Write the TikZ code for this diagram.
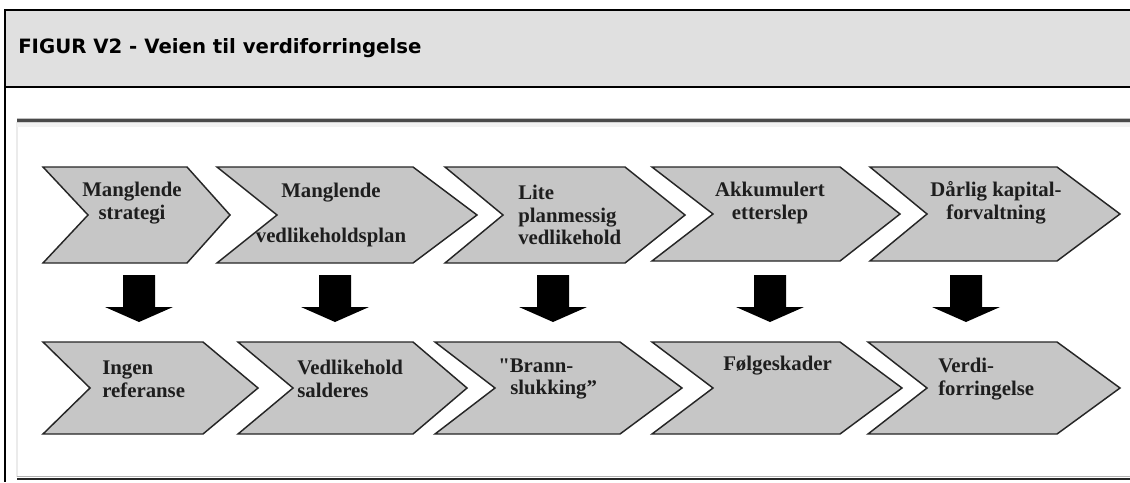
\documentclass[tikz,border=0pt]{standalone}
\usepackage{fontspec}
\newfontfamily\titlefont{DejaVu Sans}
\newfontfamily\chevfont{Liberation Serif}
\definecolor{headgray}{HTML}{E0E0E0}
\definecolor{chevgray}{HTML}{C6C6C6}
\definecolor{chevline}{HTML}{262626}
\definecolor{chevink}{HTML}{1E1E1E}
\definecolor{rulegray}{HTML}{4A4A4A}

\tikzset{
  frameline/.style={line width=2.2pt, black},
  chev/.style={fill=chevgray, draw=chevline, line width=1.1pt, line join=miter},
  chevtext/.style={font=\chevfont\bfseries\fontsize{15.6}{17}\selectfont,
                   text=chevink, inner sep=0pt},
  blockarrow/.style={fill=black, draw=none},
}

% chevron: left x, notch x, right x, tip x, top y, bottom y
\newcommand\chevshape[6]{%
  \path[chev] (#1,#5) -- (#3,#5) -- (#4,{(#5+#6)/2}) -- (#3,#6) -- (#1,#6)
    -- (#2,{(#5+#6)/2}) -- cycle;}

% thick downward block arrow centred on x
\newcommand\dropArrow[1]{%
  \path[blockarrow] (#1-16,275) -- (#1+16,275) -- (#1+16,307) -- (#1+34,307)
    -- (#1,322) -- (#1-34,307) -- (#1-16,307) -- cycle;}

\begin{document}
\begin{tikzpicture}[x=0.75pt,y=-0.75pt]
  \useasboundingbox (0,0) rectangle (1130,482);
  \fill[white] (0,0) rectangle (1130,482);

  % header band
  \fill[headgray] (5,10) rectangle (1130,87);
  \draw[frameline] (5,10) -- (1130,10);
  \draw[frameline] (5,87) -- (1130,87);
  \draw[frameline] (5,9) -- (5,482);
  \node[font=\titlefont\bfseries\fontsize{14.8}{17}\selectfont, anchor=base west,
        inner sep=0pt] (title) at (18,53) {FIGUR V2 - Veien til verdiforringelse};

  % embedded figure frame
  \draw[black!8, line width=1.5pt] (17,122) -- (17,477);
  \draw[black!25, line width=1pt] (17,118.5) -- (1130,118.5);
  \draw[rulegray, line width=1.6pt] (17,120.5) -- (1130,120.5);
  \draw[black!18, line width=1.2pt] (17,122.5) -- (1130,122.5);
  \draw[black!5, line width=3pt] (17,125) -- (1130,125);
  \draw[black!30, line width=1pt] (17,476.5) -- (1130,476.5);
  \draw[black!85, line width=2.2pt] (17,479) -- (1130,479);

  % upper row
  \chevshape{43}{88}{187}{230}{167}{263}
  \chevshape{217}{277}{413}{477}{167}{263}
  \chevshape{445}{503}{625}{685}{167}{263}
  \chevshape{652}{713}{840}{900}{167}{261}
  \chevshape{870}{927}{1057}{1120}{167}{261}

  % lower row
  \chevshape{43}{90}{203}{258}{342}{434}
  \chevshape{238}{293}{413}{467}{342}{434}
  \chevshape{435}{495}{620}{682}{342}{434}
  \chevshape{652}{713}{840}{902}{342}{434}
  \chevshape{868}{927}{1057}{1120}{342}{434}

  % upper labels
  \node[chevtext, align=center] (c1) at (132,203) {Manglende\\strategi};
  \node[chevtext, align=center] (c2) at (331,215) {Manglende\\[17pt]vedlikeholdsplan};
  \node[chevtext, align=left, anchor=west] (c3) at (518,215) {Lite\\planmessig\\vedlikehold};
  \node[chevtext, align=center] (c4) at (770,203) {Akkumulert\\etterslep};
  \node[chevtext, align=center] (c5) at (996,203) {Dårlig kapital-\\forvaltning};

  % lower labels
  \node[chevtext, align=left, anchor=west] (d1) at (102,379) {Ingen\\referanse};
  \node[chevtext, align=left, anchor=west] (d2) at (297,379) {Vedlikehold\\salderes};
  \node[chevtext, align=left, anchor=west] (d3) at (498,379) {\char34 Brann-\\\hspace*{9pt}slukking”};
  \node[chevtext, anchor=west] (d4) at (723,366) {Følgeskader};
  \node[chevtext, align=left, anchor=west] (d5) at (938,379) {Verdi-\\forringelse};

  % arrows from each cause to its consequence
  \dropArrow{139}
  \dropArrow{335}
  \dropArrow{553}
  \dropArrow{770}
  \dropArrow{966}
\end{tikzpicture}
\end{document}
